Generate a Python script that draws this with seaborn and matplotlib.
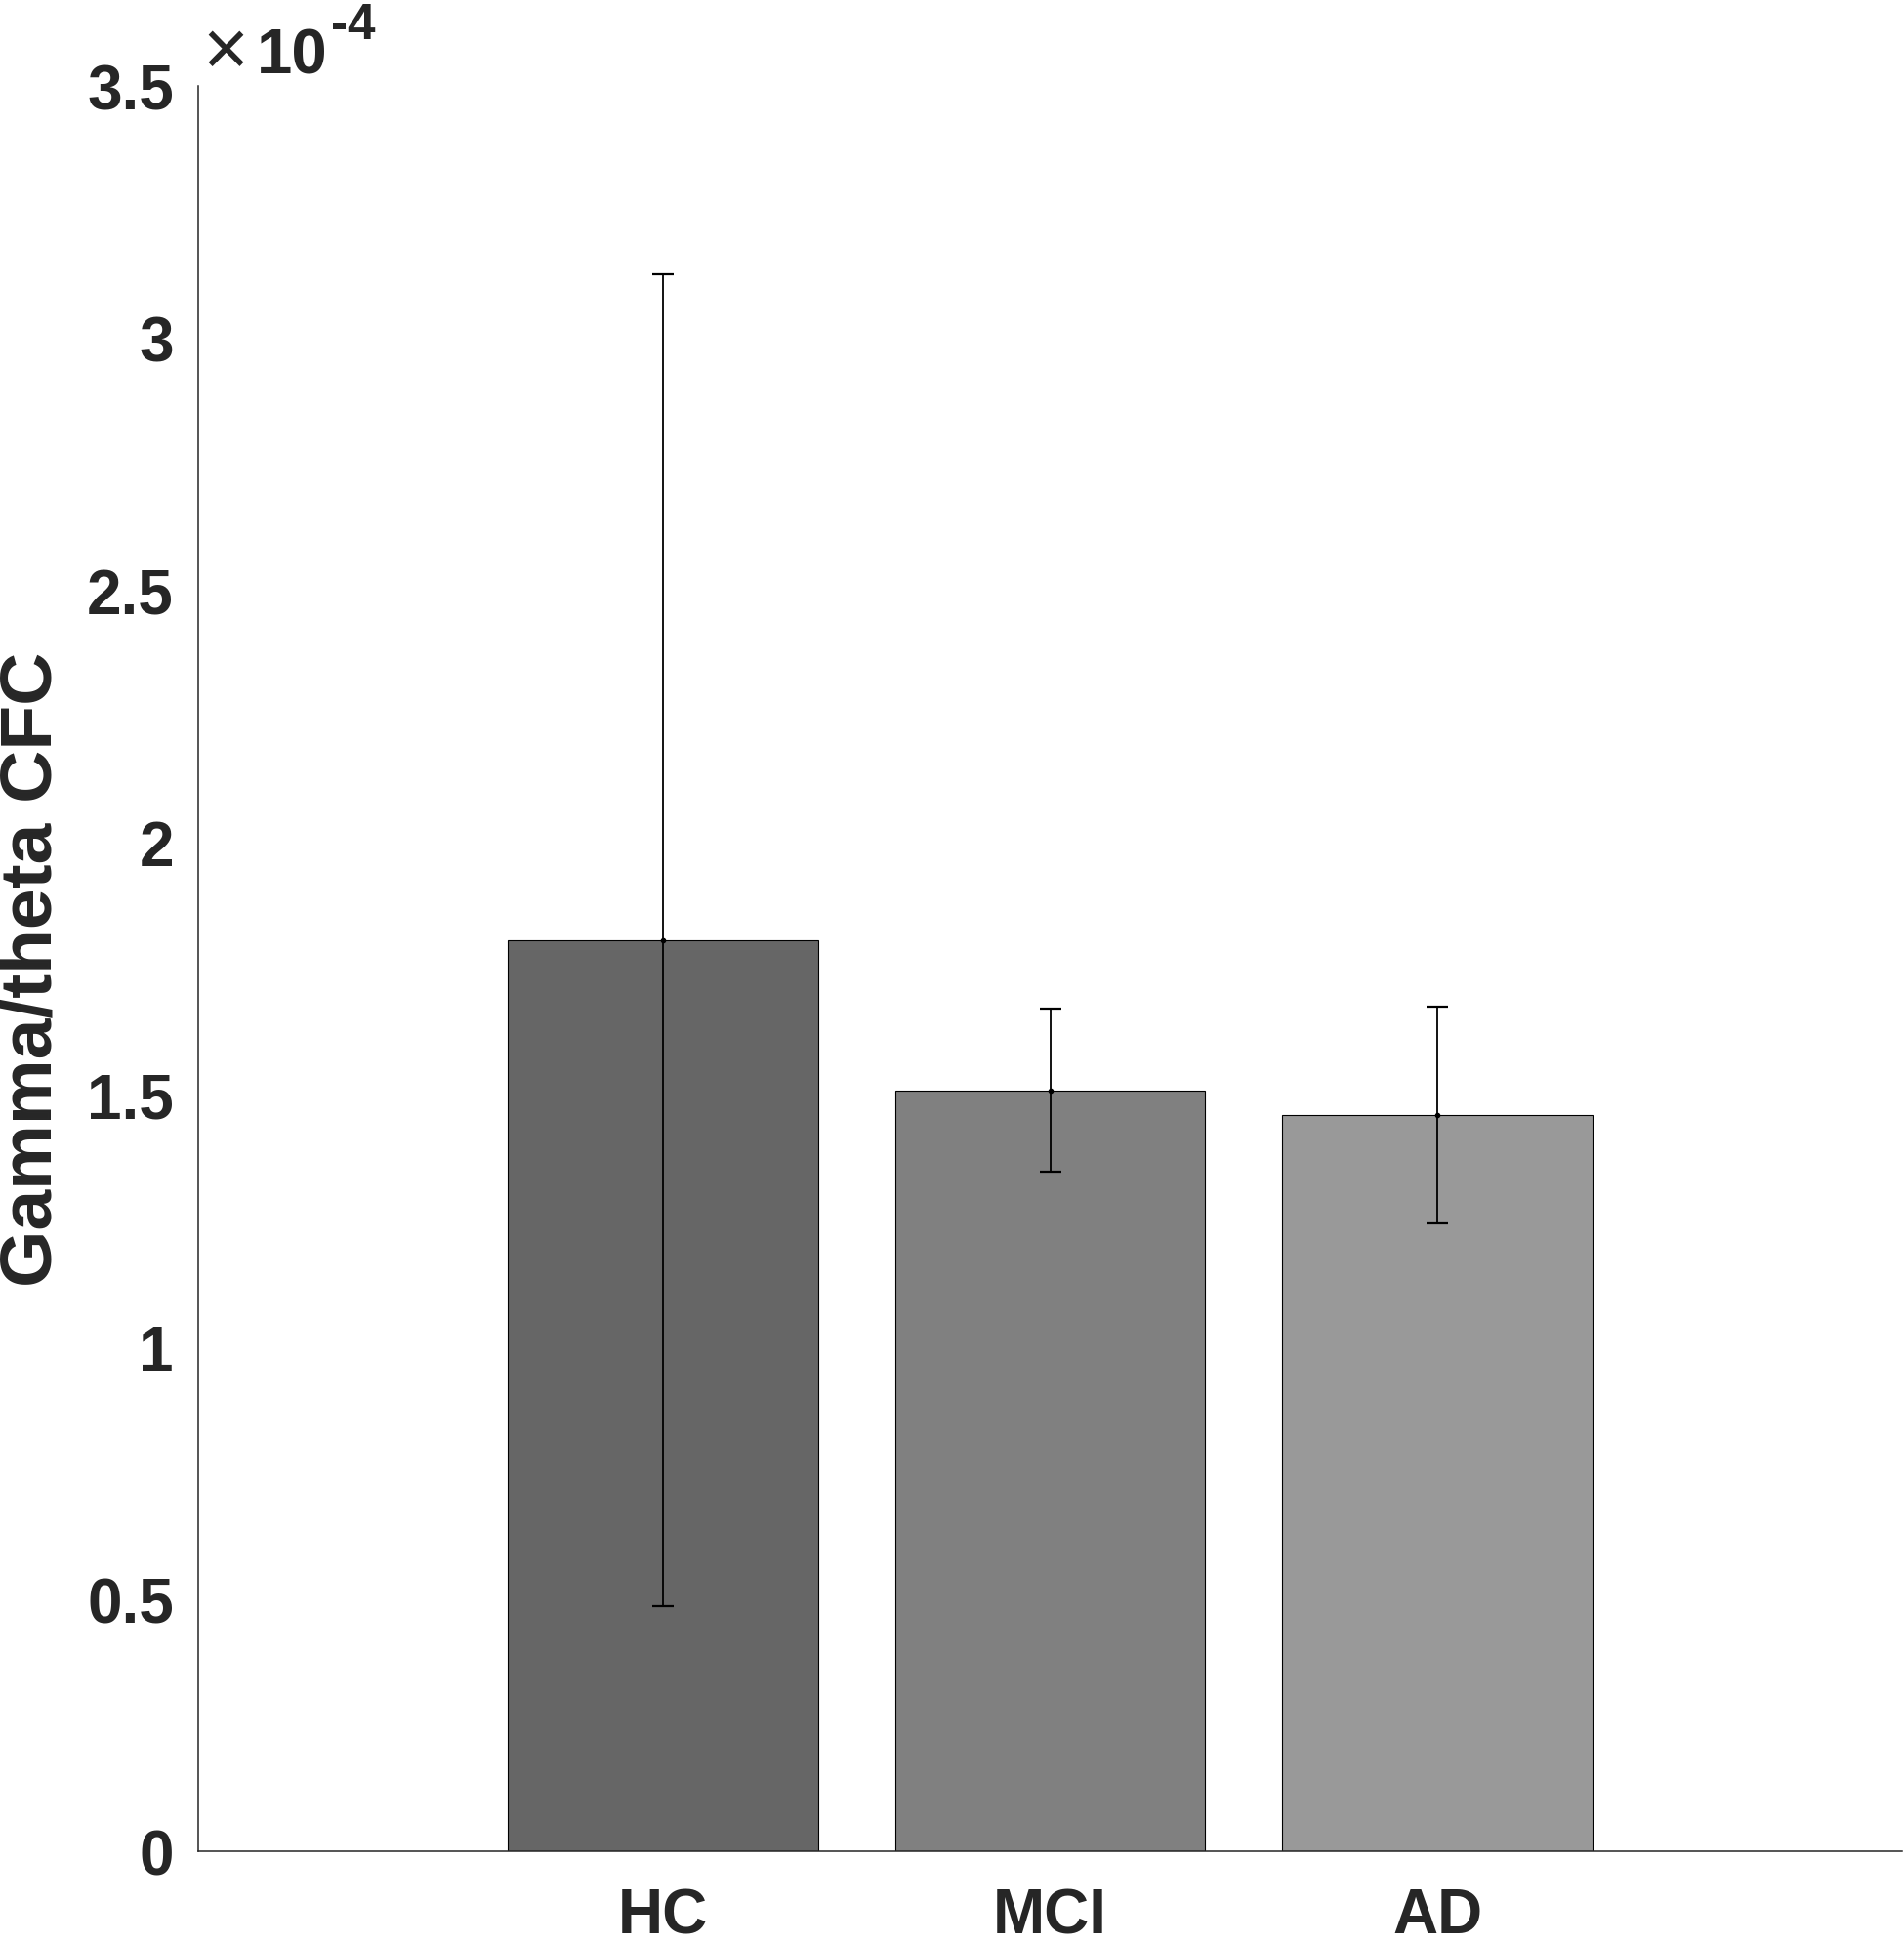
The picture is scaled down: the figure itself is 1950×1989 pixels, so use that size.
import matplotlib
matplotlib.use("Agg")
import matplotlib.pyplot as plt
import numpy as np
import seaborn as sns
from matplotlib.ticker import FuncFormatter

# group means and error bar half-lengths
groups = ["HC", "MCI", "AD"]
cfc_mean = [1.807e-4, 1.509e-4, 1.459e-4]
cfc_err = [1.320e-4, 0.162e-4, 0.215e-4]
bar_colors = ["#666666", "#808080", "#999999"]
y_ticks = [0, 0.5e-4, 1e-4, 1.5e-4, 2e-4, 2.5e-4, 3e-4, 3.5e-4]

sns.set_style("white")
plt.rcParams["font.family"] = ["Liberation Sans", "DejaVu Sans"]
text_col = "#262626"

fig = plt.figure(figsize=(19.5, 19.9), dpi=100)
ax = fig.add_axes([0.1041, 0.0467, 0.8949, 0.9085])

sns.barplot(x=groups, y=cfc_mean, hue=groups, palette=bar_colors, legend=False,
            width=0.8, edgecolor="black", linewidth=0.8, errorbar=None, ax=ax)
ax.errorbar(np.arange(len(groups)), cfc_mean, yerr=cfc_err, fmt="o", color="black",
            markersize=3, elinewidth=1.3, capsize=8, capthick=1.6)

ax.set_xlim(-1.2, 3.2)
ax.set_ylim(0, 3.5e-4)
ax.set_yticks(y_ticks)
ax.yaxis.set_major_formatter(FuncFormatter(lambda v, _: f"{v * 1e4:g}"))

for side in ["top", "right"]:
    ax.spines[side].set_visible(False)
for side in ["left", "bottom"]:
    ax.spines[side].set_linewidth(1.1)
    ax.spines[side].set_color(text_col)

ax.tick_params(axis="y", direction="in", length=13.7, width=1.1, color=text_col,
               pad=18, labelsize=46, labelcolor=text_col)
ax.tick_params(axis="x", length=0, pad=26, labelsize=46, labelcolor=text_col)
for lab in ax.get_xticklabels() + ax.get_yticklabels():
    lab.set_fontweight("bold")

ax.set_xlabel("")
ax.set_ylabel("Gamma/theta CFC", fontsize=54, fontweight="bold", color=text_col, labelpad=16)

# exponent label in the top left corner
W, H = 1950, 1990
fig.text(231 / W, 1 - 56 / H, "\u00d7", fontsize=58, color=text_col, ha="center", va="center")
fig.text(263 / W, 1 - 75 / H, "10", fontsize=47, fontweight="bold", color=text_col,
         ha="left", va="baseline")
fig.text(339 / W, 1 - 40 / H, "-4", fontsize=37, fontweight="bold", color=text_col,
         ha="left", va="baseline")

fig.savefig("out.png", dpi=100)
